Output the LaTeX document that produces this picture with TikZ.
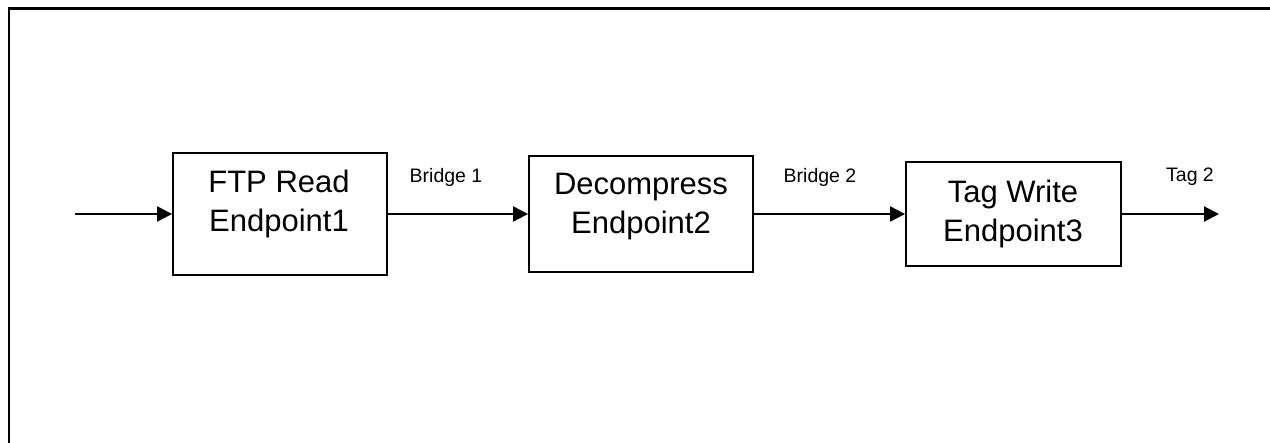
\documentclass[tikz,border=0pt]{standalone}
\usepackage{fontspec}
\setmainfont{Liberation Sans}
\usetikzlibrary{arrows.meta}
\begin{document}
\begin{tikzpicture}[x=1pt,y=-1pt,
  stage/.style={draw,line width=1.8pt,inner sep=0pt},
  caption/.style={inner sep=0pt,font=\fontsize{31}{39}\selectfont,align=center},
  flow/.style={line width=2pt,-{Triangle[length=15pt,width=15pt]}},
  tag/.style={font=\fontsize{19.5}{22}\selectfont}]
\useasboundingbox (0,0) rectangle (1270,443);
% frame edges
\draw[line width=2.6pt] (1270,8.5) -- (9,8.5) -- (9,443);
% stages
\node[stage,minimum width=214pt,minimum height=122pt] (s1) at (280,214) {};
\node[stage,minimum width=224pt,minimum height=116pt] (s2) at (641,214) {};
\node[stage,minimum width=215pt,minimum height=104pt] (s3) at (1013.5,214) {};
\node[caption] (s1t) at (279,204) {FTP Read\\Endpoint1};
\node[caption] (s2t) at (641,207) {Decompress\\Endpoint2};
\node[caption] (s3t) at (1013,214) {Tag Write\\Endpoint3};
\coordinate (in) at (75,214);
\coordinate (out) at (1219,214);
% connectors
\draw[flow] (in) -- (s1.west);
\draw[flow] (s1.east) -- (s2.west);
\draw[flow] (s2.east) -- (s3.west);
\draw[flow] (s3.east) -- (out);
% connector labels
\node[tag] (b1) at (446,177) {Bridge 1};
\node[tag] (b2) at (820,177) {Bridge 2};
\node[tag] (t2) at (1190,177) {Tag 2};
\end{tikzpicture}
\end{document}
